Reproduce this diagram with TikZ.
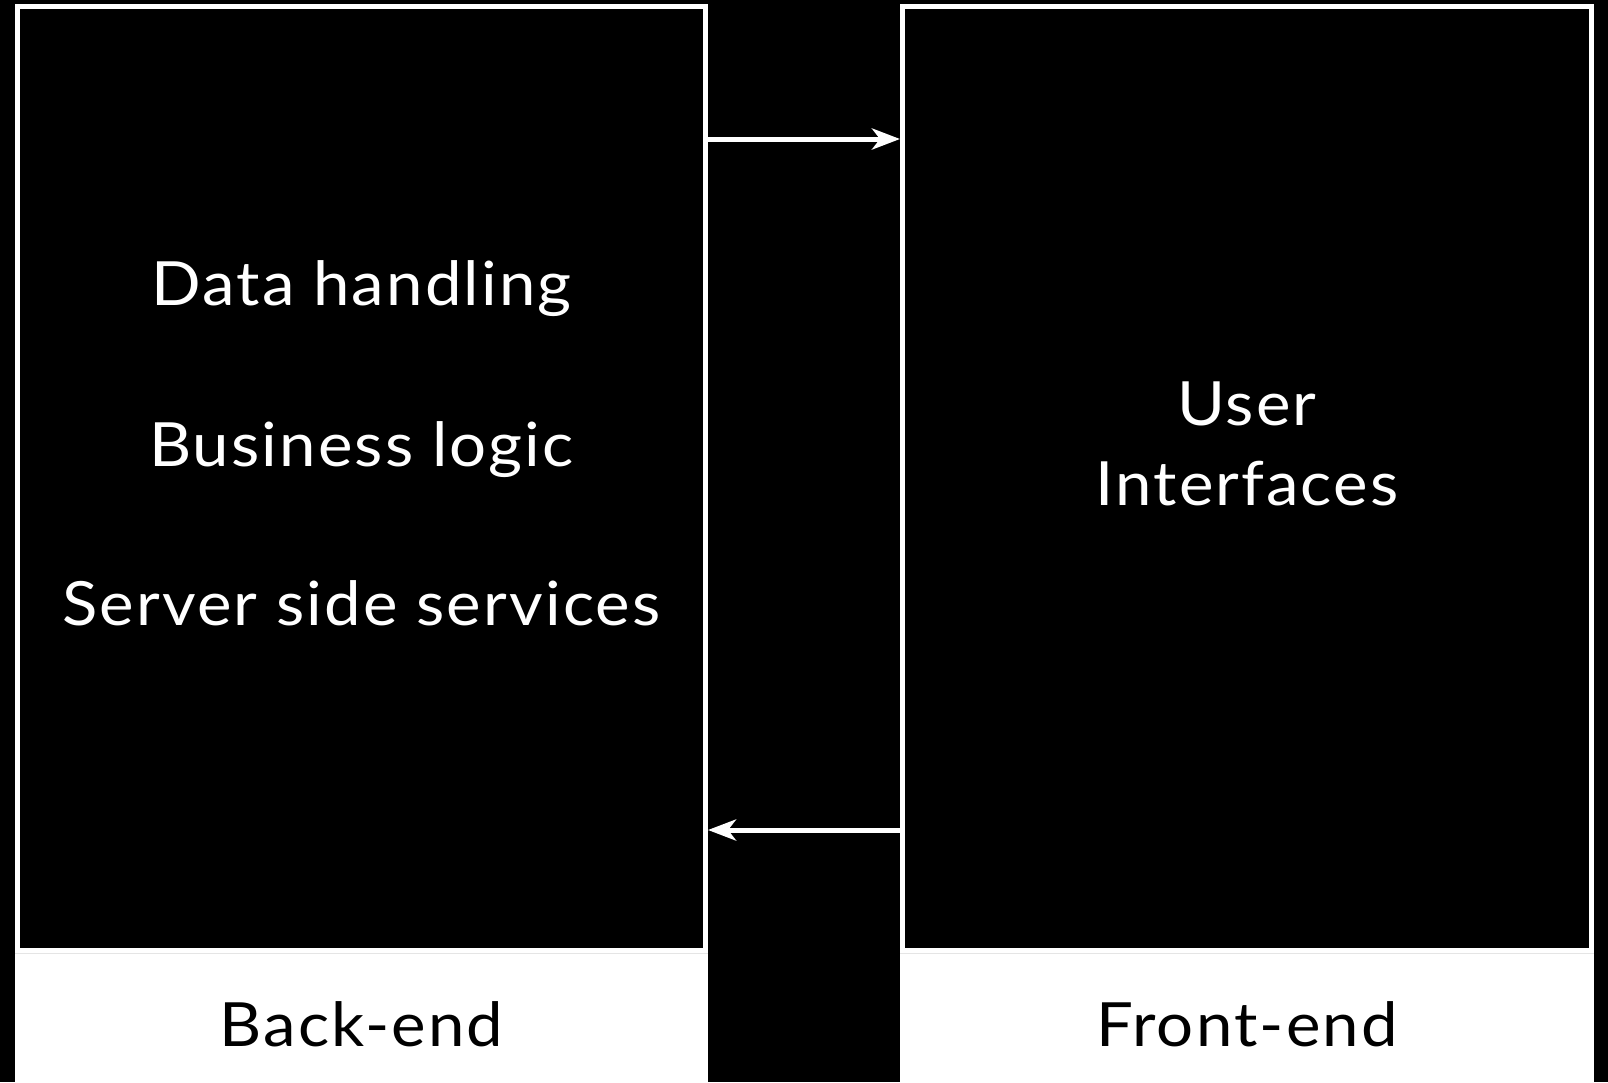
\documentclass[tikz,border=0pt]{standalone}
\usepackage{fontspec}
\setmainfont{Lato}[FakeStretch=1.07,LetterSpace=3.5]
\usetikzlibrary{positioning,arrows.meta}

\begin{document}
\begin{tikzpicture}[x=1pt,y=-1pt,
    outer/.style={fill=white,inner sep=0pt,outer sep=0pt},
    inner/.style={fill=black,inner sep=0pt,outer sep=0pt},
    txt/.style={text=white,anchor=base,inner sep=0pt,font=\fontsize{61}{73}\selectfont},
    tag/.style={text=black,anchor=base,inner sep=0pt,font=\fontsize{61}{73}\selectfont},
    flow/.style={draw=white,line width=5pt,-{Stealth[length=28pt,width=21pt,inset=8pt]}}]
    \fill[black] (0,0) rectangle (1608,1082);
    \useasboundingbox (0,0) rectangle (1608,1082);

    % the two tiers
    \node[outer,minimum width=693,minimum height=1078] (backouter) at (361.5,543) {};
    \node[inner,minimum width=683,minimum height=939] (backbox) at (361.5,478.5) {};
    \node[outer,minimum width=694,minimum height=1078] (frontouter) at (1247,543) {};
    \node[inner,minimum width=684,minimum height=939] (frontbox) at (1247,478.5) {};
    \draw[gray!20,line width=1pt] (backouter.west |- 0,953) -- (backouter.east |- 0,953);
    \draw[gray!20,line width=1pt] (frontouter.west |- 0,953) -- (frontouter.east |- 0,953);

    \node[txt] (data) at (361.5,305.5) {Data handling};
    \node[txt] (logic) at (361.5,466.5) {Business logic};
    \node[txt] (server) at (361.5,625.5) {Server side services};
    \node[txt] (user) at (1247,425.5) {User};
    \node[txt] (ifaces) at (1247,505.5) {Interfaces};

    \node[tag] (back) at (361.5,1046) {Back-end};
    \node[tag] (front) at (1247,1046) {Front-end};

    % requests and responses
    \draw[flow] (backouter.east |- 0,139) -- (frontouter.west |- 0,139);
    \draw[flow] (frontouter.west |- 0,830) -- (backouter.east |- 0,830);
\end{tikzpicture}
\end{document}
